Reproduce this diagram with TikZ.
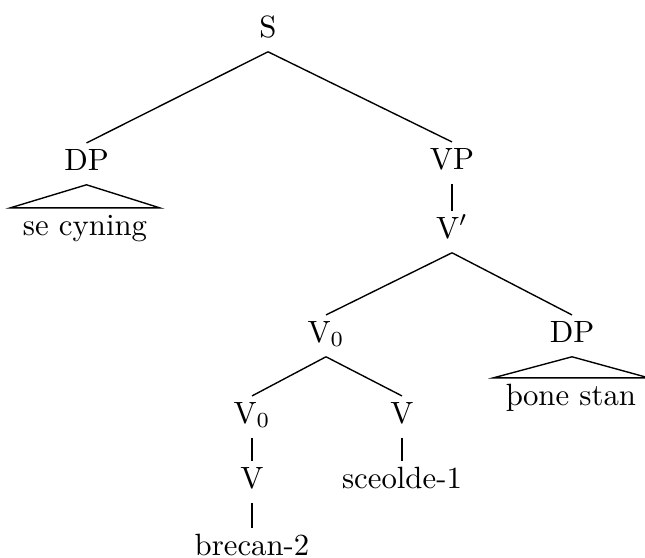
\documentclass[tikz,border=0pt]{standalone}
\usepackage{fontspec}
\begin{document}
\begin{tikzpicture}[x=0.325pt,y=-0.325pt,
  lab/.style={anchor=base,inner xsep=1pt,inner ysep=1.6pt,text height=7.0pt,text depth=3.0pt},
  leaf/.style={anchor=base,inner xsep=4pt,inner ysep=1.6pt,text height=7.0pt,text depth=2.2pt},
  edge/.style={draw,line width=0.45pt}]
\useasboundingbox (0,0) rectangle (645,557);
\node[lab] (S) at (268,37) {S};
\node[lab] (DP) at (86.5,170) {DP};
\node[lab] (VP) at (452,169) {VP};
\node[lab] (Vbar) at (452,238) {V$'$};
\node[lab] (V0) at (326,342) {V$_0$};
\node[lab] (DPb) at (572,342) {DP};
\node[lab] (V0b) at (252,423) {V$_0$};
\node[lab] (Vb) at (402,423) {V};
\node[lab] (Vc) at (252,488) {V};
\node[leaf] (sceolde) at (402,488) {sceolde-1};
\node[leaf] (brecan) at (252,555) {brecan-2};
\node[leaf] (secyning) at (85,235) {se cyning};
\node[leaf] (stan) at (571,405) {þone stan};
\draw[edge] (S.south) -- (DP.north);
\draw[edge] (S.south) -- (VP.north);
\draw[edge] (VP.south) -- (Vbar.north);
\draw[edge] (Vbar.south) -- (V0.north);
\draw[edge] (Vbar.south) -- (DPb.north);
\draw[edge] (V0.south) -- (V0b.north);
\draw[edge] (V0.south) -- (Vb.north);
\draw[edge] (V0b.south) -- (Vc.north);
\draw[edge] (Vb.south) -- (sceolde.north);
\draw[edge] (Vc.south) -- (brecan.north);
\draw[edge] (DP.south) -- (secyning.north west) -- (secyning.north east) -- cycle;
\draw[edge] (DPb.south) -- (stan.north west) -- (stan.north east) -- cycle;
\end{tikzpicture}
\end{document}
